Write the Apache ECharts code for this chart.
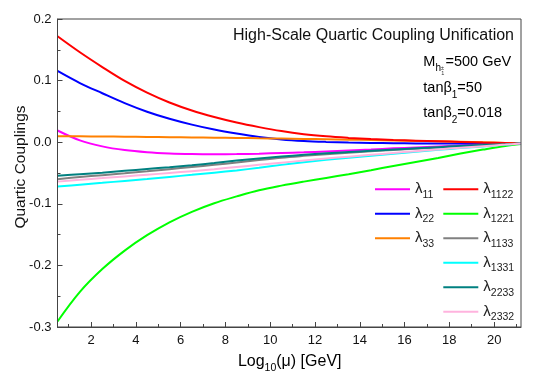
<!DOCTYPE html>
<html>
<head>
<meta charset="utf-8">
<script src="https://cdn.jsdelivr.net/npm/echarts@6/dist/echarts.min.js"></script>
<style>
html,body{margin:0;padding:0;background:#fff;}
#c{width:540px;height:386px;}
</style>
</head>
<body>
<div id="c"></div>
<script>
// x positions: Log10(mu) [GeV]
var logMu   = [0.5, 1.5, 2.5, 3.5, 4.5, 5.5, 6.5, 7.5, 8.5, 9.5, 10.5, 11.5, 12.5, 13.5, 14.5, 15.5, 16.5, 17.5, 18.5, 19.5, 20.5, 21.2];
var lam11   = [0.019, 0.003, -0.0068, -0.0128, -0.0163, -0.0183, -0.0193, -0.0196, -0.0193, -0.0186, -0.0175, -0.0165, -0.015, -0.0135, -0.012, -0.010, -0.0085, -0.007, -0.0055, -0.004, -0.0028, -0.002];
var lam22   = [0.1156, 0.096, 0.0795, 0.0635, 0.0495, 0.038, 0.0285, 0.0205, 0.014, 0.0085, 0.0045, 0.002, 0.0005, -0.0005, -0.0012, -0.0017, -0.002, -0.002, -0.002, -0.002, -0.002, -0.002];
var lam33   = [0.0098, 0.0095, 0.0092, 0.0089, 0.0085, 0.0081, 0.0077, 0.0073, 0.0069, 0.0064, 0.0059, 0.0053, 0.0047, 0.0041, 0.0035, 0.0028, 0.0021, 0.0014, 0.0006, -0.0002, -0.0011, -0.002];
var lam1122 = [0.172, 0.146, 0.122, 0.0995, 0.0805, 0.0645, 0.0515, 0.041, 0.032, 0.0245, 0.018, 0.013, 0.0095, 0.007, 0.005, 0.0035, 0.0025, 0.0015, 0.0005, -0.0005, -0.0013, -0.002];
var lam1221 = [-0.291, -0.243, -0.206, -0.176, -0.151, -0.130, -0.113, -0.099, -0.088, -0.078, -0.0705, -0.064, -0.058, -0.052, -0.0455, -0.0385, -0.032, -0.0255, -0.0185, -0.012, -0.006, -0.003];
var lam1133 = [-0.060, -0.0565, -0.0535, -0.0505, -0.0473, -0.0438, -0.0403, -0.0368, -0.033, -0.029, -0.0252, -0.0222, -0.0195, -0.017, -0.0147, -0.0125, -0.0105, -0.0085, -0.0066, -0.005, -0.0034, -0.002];
var lam1331 = [-0.072, -0.069, -0.066, -0.0628, -0.0596, -0.0563, -0.053, -0.0495, -0.0458, -0.0415, -0.0368, -0.0325, -0.0287, -0.0253, -0.022, -0.0187, -0.0155, -0.0124, -0.0095, -0.0068, -0.0042, -0.002];
var lam2233 = [-0.0545, -0.052, -0.0494, -0.0465, -0.0435, -0.0405, -0.0373, -0.0338, -0.0298, -0.0263, -0.0232, -0.0205, -0.018, -0.016, -0.014, -0.012, -0.010, -0.008, -0.0062, -0.0047, -0.0032, -0.002];
var lam2332 = [-0.064, -0.061, -0.0583, -0.0555, -0.0528, -0.050, -0.047, -0.0438, -0.0403, -0.0368, -0.0333, -0.0298, -0.0265, -0.0235, -0.0205, -0.0175, -0.0145, -0.0117, -0.009, -0.0065, -0.0039, -0.002];

var xMajorTicks = [2, 4, 6, 8, 10, 12, 14, 16, 18, 20];
var xMinorTicks = [1, 3, 5, 7, 9, 11, 13, 15, 17, 19, 21];

var seriesDefs = [
  {name: 'λ11',   data: lam11,   color: '#FF00FF'},
  {name: 'λ22',   data: lam22,   color: '#0000FF'},
  {name: 'λ33',   data: lam33,   color: '#FF8000'},
  {name: 'λ1122', data: lam1122, color: '#FF0000'},
  {name: 'λ1221', data: lam1221, color: '#00FF00'},
  {name: 'λ1133', data: lam1133, color: '#808080'},
  {name: 'λ1331', data: lam1331, color: '#00FFFF'},
  {name: 'λ2233', data: lam2233, color: '#008080'},
  {name: 'λ2332', data: lam2332, color: '#FFB3DE'}
];

var FONT = 'Liberation Sans, Arial, Helvetica, sans-serif';
var AX = '#444';

function pair(arr) { return logMu.map(function (x, i) { return [x, arr[i]]; }); }

var series = seriesDefs.map(function (s) {
  return {
    name: s.name, type: 'line', data: pair(s.data), smooth: 0.35,
    showSymbol: false, symbol: 'none', xAxisIndex: 0, yAxisIndex: 0,
    lineStyle: {color: s.color, width: 2}, itemStyle: {color: s.color},
    emphasis: {disabled: true}, z: 3
  };
});

var legendRich = {
  l: {fontSize: 15, fontFamily: FONT, color: '#222', lineHeight: 18},
  s: {fontSize: 10.5, fontFamily: FONT, color: '#222', lineHeight: 10, verticalAlign: 'bottom', padding: [0, 0, -2, 0]}
};
function legendFmt(name) { return '{l|λ}{s|' + name.slice(1) + '}'; }

function legendCfg(names, left) {
  return {
    data: names, orient: 'vertical', left: left, top: 181.7, padding: 0,
    itemWidth: 35, itemHeight: 2, itemGap: 6, icon: 'rect',
    formatter: legendFmt, selectedMode: false,
    textStyle: {rich: legendRich, fontFamily: FONT}
  };
}

var annRich = {
  n: {fontSize: 14.5, fontFamily: FONT, color: '#111', lineHeight: 18},
  s: {fontSize: 10, fontFamily: FONT, color: '#111', lineHeight: 10, verticalAlign: 'bottom', padding: [0, 0, -3, 0]},
  sp: {width: 4.5, fontSize: 6, lineHeight: 6}
};

var option = {
  backgroundColor: '#fff',
  animation: false,
  grid: {left: 57.5, right: 19, top: 19, bottom: 59, show: true, borderColor: AX, borderWidth: 1, backgroundColor: 'transparent', z: 5},
  xAxis: [{
    type: 'value', min: 0.5, max: 21.2, position: 'bottom',
    axisLine: {show: true, onZero: false, lineStyle: {color: AX, width: 1}},
    axisTick: {show: true, inside: true, length: 5, customValues: xMajorTicks, lineStyle: {color: AX}},
    axisLabel: {customValues: xMajorTicks, fontSize: 13, fontFamily: FONT, color: '#111', margin: 7},
    splitLine: {show: false}
  }, {
    type: 'value', min: 0.5, max: 21.2, position: 'bottom',
    axisLine: {show: false, onZero: false},
    axisTick: {show: true, inside: true, length: 3, customValues: xMinorTicks, lineStyle: {color: AX}},
    axisLabel: {show: false},
    splitLine: {show: false}
  }],
  yAxis: [{
    type: 'value', min: -0.3, max: 0.2, interval: 0.1,
    axisLine: {show: true, onZero: false, lineStyle: {color: AX, width: 1}},
    axisTick: {show: true, inside: true, length: 5, lineStyle: {color: AX}},
    minorTick: {show: true, splitNumber: 2, length: 3, lineStyle: {color: AX}},
    axisLabel: {fontSize: 13, fontFamily: FONT, color: '#111', margin: 6, formatter: function (v) { return v.toFixed(1); }},
    splitLine: {show: false}
  }],
  legend: [
    legendCfg(['λ11', 'λ22', 'λ33'], 375),
    legendCfg(['λ1122', 'λ1221', 'λ1133', 'λ1331', 'λ2233', 'λ2332'], 443.3)
  ],
  graphic: [
    {type: 'text', right: 26, top: 27.5, style: {text: 'High-Scale Quartic Coupling Unification', font: '16px ' + FONT, fill: '#111'}, z: 10},
    {type: 'text', left: 423.3, top: 54, style: {text: '{n|M}{s|h}{sp|}{n|=500 GeV}', rich: annRich}, z: 10},
    {type: 'text', x: 440.8, y: 68, style: {text: '±', font: '6px ' + FONT, fill: '#333', verticalAlign: 'middle'}, z: 10},
    {type: 'text', x: 441.3, y: 73, style: {text: '1', font: '5.5px ' + FONT, fill: '#333', verticalAlign: 'middle'}, z: 10},
    {type: 'text', left: 423.3, top: 80.5, style: {text: '{n|tanβ}{s|1}{n|=50}', rich: annRich}, z: 10},
    {type: 'text', left: 423.3, top: 105.5, style: {text: '{n|tanβ}{s|2}{n|=0.018}', rich: annRich}, z: 10},
    {type: 'text', x: 289.7, y: 352, style: {text: '{n|Log}{s|10}{n|(μ) [GeV]}', align: 'center', rich: {
      n: {fontSize: 16, fontFamily: FONT, color: '#111', lineHeight: 19},
      s: {fontSize: 10.5, fontFamily: FONT, color: '#111', lineHeight: 10, verticalAlign: 'bottom', padding: [0, 0, -3, 0]}
    }}, z: 10},
    {type: 'text', x: 21, y: 167, rotation: Math.PI / 2, style: {text: 'Quartic Couplings', font: '15.5px ' + FONT, fill: '#111', align: 'center', verticalAlign: 'middle'}, z: 10}
  ],
  series: series
};

var chart = echarts.init(document.getElementById('c'), null, {renderer: 'canvas'});
chart.setOption(option);
</script>
</body>
</html>
